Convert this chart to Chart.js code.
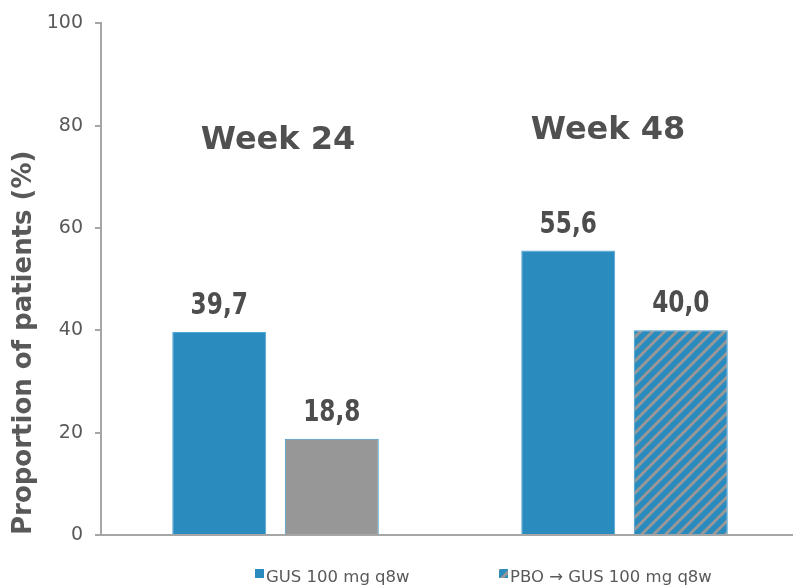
<!DOCTYPE html>
<html>
<head>
<meta charset="utf-8">
<script src="https://cdn.jsdelivr.net/npm/chart.js@4/dist/chart.umd.min.js"></script>
<style>
  html, body { margin: 0; padding: 0; background: #fff; overflow: hidden; }
  #wrap { width: 799px; height: 585px; }
</style>
</head>
<body>
<div id="wrap"><canvas id="chart"></canvas></div>
<script>
// Data
var weeks = ['Week 24', 'Week 48'];
var gusValues = [39.7, 55.6];
var pboValues = [18.8, 40.0];
var seriesNames = ['GUS 100 mg q8w', 'PBO \u2192 GUS 100 mg q8w'];
var yTicks = [0, 20, 40, 60, 80, 100];

var BLUE = '#2a8bbf';
var GREY = '#979797';
var TEXT = '#595959';
var AXIS = '#a6a6a6';

// diagonal hatch, grey stripes on blue
function hatch(bg, fg) {
    var c = document.createElement('canvas');
    c.width = 12; c.height = 12;
    var ctx = c.getContext('2d');
    ctx.fillStyle = bg;
    ctx.fillRect(0, 0, 12, 12);
    ctx.strokeStyle = fg;
    ctx.lineWidth = 3;
    ctx.beginPath();
    ctx.moveTo(-3, 15); ctx.lineTo(15, -3);
    ctx.moveTo(-3, 3);  ctx.lineTo(3, -3);
    ctx.moveTo(9, 15);  ctx.lineTo(15, 9);
    ctx.stroke();
    return ctx.createPattern(c, 'repeat');
}
var hatched = hatch(BLUE, GREY);

function fmt(v) {
    return v.toFixed(1).replace('.', ',');
}

// value labels above the bars (narrow bold look)
var valueLabels = {
    id: 'valueLabels',
    afterDatasetsDraw: function(chart) {
        var ctx = chart.ctx;
        chart.data.datasets.forEach(function(ds, i) {
            chart.getDatasetMeta(i).data.forEach(function(bar, j) {
                ctx.save();
                ctx.font = 'bold 30px "DejaVu Sans Condensed", "DejaVu Sans", sans-serif';
                ctx.fillStyle = '#4d4d4d';
                ctx.textAlign = 'center';
                ctx.textBaseline = 'alphabetic';
                ctx.translate(bar.x, bar.y - 18);
                ctx.scale(0.86, 1);
                ctx.fillText(fmt(ds.data[j]), 0, 0);
                ctx.restore();
            });
        });
    }
};

// "Week 24" / "Week 48" group headings
var groupTitles = {
    id: 'groupTitles',
    afterDraw: function(chart, args, opts) {
        var ctx = chart.ctx;
        var x = chart.scales.x, y = chart.scales.y;
        ctx.save();
        ctx.font = 'bold 32px "DejaVu Sans", sans-serif';
        ctx.fillStyle = '#505050';
        ctx.textAlign = 'center';
        weeks.forEach(function(w, i) {
            ctx.fillText(w, x.getPixelForValue(i) + opts.dx[i], y.getPixelForValue(opts.level[i]));
        });
        ctx.restore();
    }
};

// legend under the plot
var bottomLegend = {
    id: 'bottomLegend',
    afterDraw: function(chart, args, opts) {
        var ctx = chart.ctx;
        ctx.save();
        ctx.font = '16.5px "DejaVu Sans", sans-serif';
        ctx.textBaseline = 'alphabetic';
        ctx.textAlign = 'left';
        var fills = [BLUE, hatched];
        seriesNames.forEach(function(name, i) {
            var x0 = opts.x[i];
            ctx.fillStyle = fills[i];
            ctx.fillRect(x0, opts.y - 13, 9, 9);
            ctx.fillStyle = TEXT;
            ctx.fillText(name, x0 + 11, opts.y);
        });
        ctx.restore();
    }
};

new Chart(document.getElementById('chart'), {
    type: 'bar',
    data: {
        labels: weeks,
        datasets: [{
            label: seriesNames[0],
            data: gusValues,
            backgroundColor: BLUE,
            borderColor: '#55a7d6',
            borderWidth: 1
        }, {
            label: seriesNames[1],
            data: pboValues,
            backgroundColor: [GREY, hatched],
            borderColor: '#3f97cc',
            borderWidth: 1
        }]
    },
    options: {
        responsive: true,
        maintainAspectRatio: false,
        animation: false,
        datasets: {
            bar: { categoryPercentage: 0.645, barPercentage: 0.835 }
        },
        layout: { padding: { top: 22, right: 0, bottom: 50, left: 0 } },
        scales: {
            x: {
                grid: { display: false },
                ticks: { display: false },
                border: { color: AXIS, width: 2 },
                afterFit: function(s) { s.height = 0; }
            },
            y: {
                min: 0,
                max: 100,
                afterBuildTicks: function(s) {
                    s.ticks = yTicks.map(function(v) { return { value: v }; });
                },
                ticks: {
                    color: TEXT,
                    padding: 12,
                    font: { family: 'DejaVu Sans', size: 19 }
                },
                grid: {
                    drawOnChartArea: false,
                    tickLength: 6,
                    color: AXIS,
                    lineWidth: 2
                },
                border: { color: AXIS, width: 2 },
                title: {
                    display: true,
                    text: 'Proportion of patients (%)',
                    align: 'start',
                    color: TEXT,
                    font: { family: 'DejaVu Sans', size: 26, weight: 'bold' },
                    padding: { top: 9, bottom: 0 }
                },
                afterFit: function(s) { s.width = 101; }
            }
        },
        plugins: {
            legend: { display: false },
            tooltip: { enabled: false },
            groupTitles: { dx: [2.5, -16.5], level: [75.4, 77.4] },
            bottomLegend: { x: [255, 499], y: 582 }
        }
    },
    plugins: [valueLabels, groupTitles, bottomLegend]
});
</script>
</body>
</html>
